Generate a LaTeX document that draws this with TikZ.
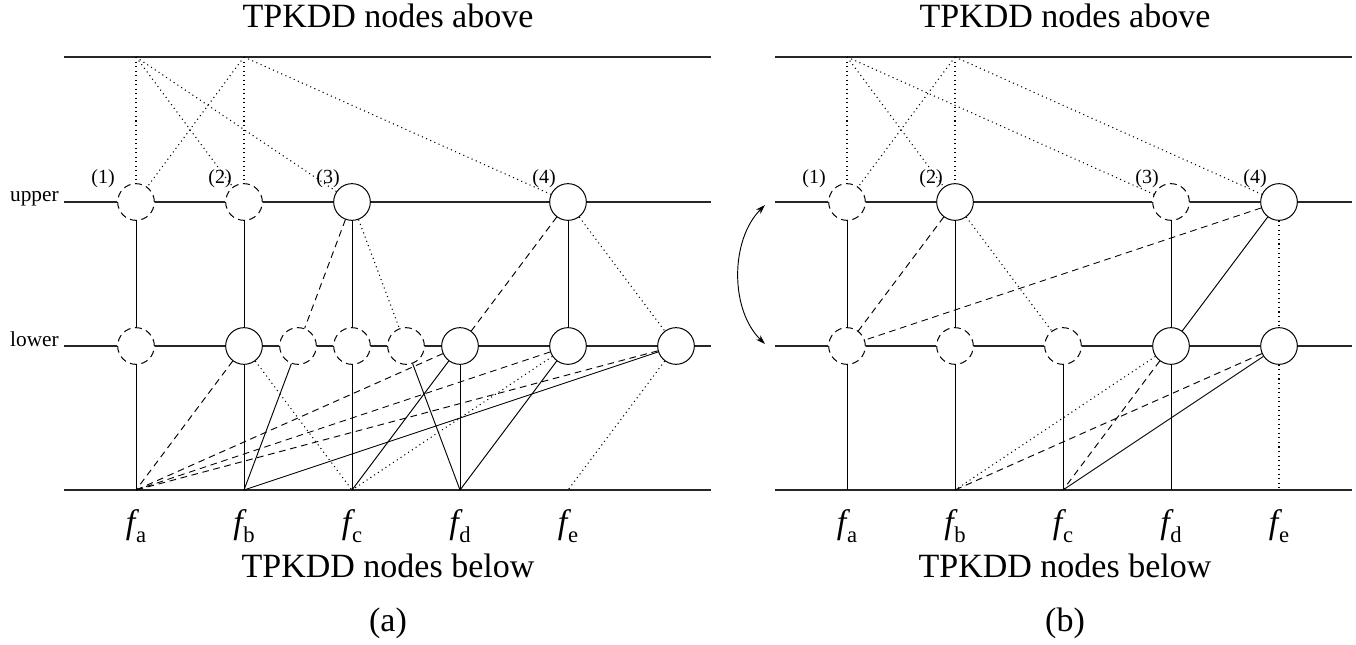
\documentclass[tikz,border=0pt]{standalone}
\usepackage{fontspec}
\setmainfont{Liberation Serif}
\usetikzlibrary{arrows.meta}
\begin{document}
\begin{tikzpicture}[x=0.75pt,y=-0.75pt,
  hl/.style={line width=0.95pt, draw=black!85},
  cn/.style={line width=0.7pt},
  dsh/.style={cn, dash pattern=on 5pt off 3.5pt},
  dot/.style={line width=0.8pt, dash pattern=on 0.8pt off 2.6pt},
  sn/.style={circle, draw, fill=white, minimum size=27.5pt, inner sep=0pt, line width=0.75pt},
  dn/.style={sn, dash pattern=on 5.2pt off 3.4pt},
  nl/.style={font=\fontsize{15}{15}\selectfont, inner sep=0pt},
  side/.style={font=\fontsize{16}{16}\selectfont, inner sep=0pt, anchor=base east},
  big/.style={font=\fontsize{25.5}{30}\selectfont, inner sep=0pt, anchor=base},
  flab/.style={font=\fontsize{25.5}{30}\selectfont, inner sep=0pt, anchor=base}]
\useasboundingbox (0,0) rectangle (1356,645);
\newcommand{\fl}[1]{{\itshape f}\kern0.5pt\raisebox{-0.28em}{\fontsize{17}{17}\selectfont #1}}

% ================= (a) =================
\node[big] (Labove) at (388,28) {TPKDD nodes above};
\node[big] (Lbelow) at (388,577) {TPKDD nodes below};
\node[big] (Lcap) at (388,631) {(a)};
\node[side] (Lupper) at (59,202) {upper};
\node[side] (Llower) at (59,346) {lower};

\coordinate (Ltl) at (64,57);   \coordinate (Ltr) at (711,57);
\coordinate (Lul) at (64,202);  \coordinate (Lur) at (711,202);
\coordinate (Lll) at (64,346);  \coordinate (Llr) at (711,346);
\coordinate (Lbl) at (64,490);  \coordinate (Lbr) at (711,490);
\coordinate (Lta) at (136,57);  \coordinate (Ltb) at (244,57);
\coordinate (Lfa) at (136,490); \coordinate (Lfb) at (244,490);
\coordinate (Lfc) at (352,490); \coordinate (Lfd) at (460,490);
\coordinate (Lfe) at (568,490);

\node[dn] (LU1) at (136,202) {};
\node[dn] (LU2) at (244,202) {};
\node[sn] (LU3) at (352,202) {};
\node[sn] (LU4) at (568,202) {};
\node[dn] (LL1) at (136,346) {};
\node[sn] (LL2) at (244,346) {};
\node[dn] (LL3) at (298,346) {};
\node[dn] (LL4) at (352,346) {};
\node[dn] (LL5) at (406,346) {};
\node[sn] (LL6) at (460,346) {};
\node[sn] (LL7) at (568,346) {};
\node[sn] (LL8) at (676,346) {};

\node[nl] (LU1l) at (103,179) {(1)};
\node[nl] (LU2l) at (220,179) {(2)};
\node[nl] (LU3l) at (328,179) {(3)};
\node[nl] (LU4l) at (544,179) {(4)};

\draw[hl] (Ltl) -- (Ltr);
\draw[hl] (Lul) -- (LU1) -- (LU2) -- (LU3) -- (LU4) -- (Lur);
\draw[hl] (Lll) -- (LL1) -- (LL2) -- (LL3) -- (LL4) -- (LL5) -- (LL6) -- (LL7) -- (LL8) -- (Llr);
\draw[hl] (Lbl) -- (Lbr);

% verticals
\draw[cn] (LU1) -- (LL1);  \draw[cn] (LL1) -- (Lfa);
\draw[cn] (LU2) -- (LL2);  \draw[cn] (LL2) -- (Lfb);
\draw[cn] (LU3) -- (LL4);  \draw[cn] (LL4) -- (Lfc);
\draw[cn] (LL6) -- (Lfd);  \draw[cn] (LU4) -- (LL7);
% top dotted
\draw[dot] (Lta) -- (LU1); \draw[dot] (Lta) -- (LU2); \draw[dot] (Lta) -- (LU3);
\draw[dot] (Ltb) -- (LU1); \draw[dot] (Ltb) -- (LU2); \draw[dot] (Ltb) -- (LU4);
% upper to lower
\draw[dsh] (LU3) -- (LL3); \draw[dot] (LU3) -- (LL5);
\draw[dsh] (LU4) -- (LL6); \draw[dot] (LU4) -- (LL8);
% lower to bottom
\draw[dsh] (LL2) -- (Lfa);
\draw[dsh] (LL6) -- (Lfa);
\draw[dsh] (LL7) -- (Lfa);
\draw[dsh] (LL8) -- (Lfa);
\draw[dot] (LL2) -- (Lfc);
\draw[cn] (LL3) -- (Lfb);
\draw[cn] (LL8) -- (Lfb);
\draw[cn] (LL6) -- (Lfc);
\draw[dot] (LL7) -- (Lfc);
\draw[cn] (LL5) -- (Lfd);
\draw[cn] (LL7) -- (Lfd);
\draw[dot] (LL8) -- (Lfe);

\node[flab] (Lfal) at (136,533) {\fl{a}};
\node[flab] (Lfbl) at (244,533) {\fl{b}};
\node[flab] (Lfcl) at (352,533) {\fl{c}};
\node[flab] (Lfdl) at (460,533) {\fl{d}};
\node[flab] (Lfel) at (568,533) {\fl{e}};

% ================= (b) =================
\node[big] (Rabove) at (1065,28) {TPKDD nodes above};
\node[big] (Rbelow) at (1065,577) {TPKDD nodes below};
\node[big] (Rcap) at (1065,631) {(b)};

\coordinate (Rtl) at (775,57);   \coordinate (Rtr) at (1352,57);
\coordinate (Rul) at (775,202);  \coordinate (Rur) at (1352,202);
\coordinate (Rll) at (775,346);  \coordinate (Rlr) at (1352,346);
\coordinate (Rbl) at (775,490);  \coordinate (Rbr) at (1352,490);
\coordinate (Rta) at (847,57);   \coordinate (Rtb) at (955,57);
\coordinate (Rfa) at (847,490);  \coordinate (Rfb) at (955,490);
\coordinate (Rfc) at (1063,490); \coordinate (Rfd) at (1171,490);
\coordinate (Rfe) at (1279,490);

\node[dn] (RU1) at (847,202) {};
\node[sn] (RU2) at (955,202) {};
\node[dn] (RU3) at (1171,202) {};
\node[sn] (RU4) at (1279,202) {};
\node[dn] (RL1) at (847,346) {};
\node[dn] (RL2) at (955,346) {};
\node[dn] (RL3) at (1063,346) {};
\node[sn] (RL4) at (1171,346) {};
\node[sn] (RL5) at (1279,346) {};

\node[nl] (RU1l) at (814,179) {(1)};
\node[nl] (RU2l) at (931,179) {(2)};
\node[nl] (RU3l) at (1147,179) {(3)};
\node[nl] (RU4l) at (1255,179) {(4)};

\draw[hl] (Rtl) -- (Rtr);
\draw[hl] (Rul) -- (RU1) -- (RU2) -- (RU3) -- (RU4) -- (Rur);
\draw[hl] (Rll) -- (RL1) -- (RL2) -- (RL3) -- (RL4) -- (RL5) -- (Rlr);
\draw[hl] (Rbl) -- (Rbr);

% verticals
\draw[cn] (RU1) -- (RL1);  \draw[cn] (RL1) -- (Rfa);
\draw[cn] (RU2) -- (RL2);  \draw[cn] (RL2) -- (Rfb);
\draw[cn] (RL3) -- (Rfc);
\draw[cn] (RU3) -- (RL4);  \draw[cn] (RL4) -- (Rfd);
\draw[dot] (RU4) -- (RL5); \draw[dot] (RL5) -- (Rfe);
% top dotted
\draw[dot] (Rta) -- (RU1); \draw[dot] (Rta) -- (RU2); \draw[dot] (Rta) -- (RU3);
\draw[dot] (Rtb) -- (RU1); \draw[dot] (Rtb) -- (RU2); \draw[dot] (Rtb) -- (RU4);
% upper to lower
\draw[dsh] (RU2) -- (RL1); \draw[dot] (RU2) -- (RL3);
\draw[dsh] (RU4) -- (RL1); \draw[cn] (RU4) -- (RL4);
% lower to bottom
\draw[dot] (RL4) -- (Rfb);
\draw[dsh] (RL4) -- (Rfc);
\draw[dsh] (RL5) -- (Rfb);
\draw[cn] (RL5) -- (Rfc);

\node[flab] (Rfal) at (847,533) {\fl{a}};
\node[flab] (Rfbl) at (955,533) {\fl{b}};
\node[flab] (Rfcl) at (1063,533) {\fl{c}};
\node[flab] (Rfdl) at (1171,533) {\fl{d}};
\node[flab] (Rfel) at (1279,533) {\fl{e}};

% swap arrow
\coordinate (Sa) at (765,205);
\coordinate (Sb) at (765,344);
\draw[cn, {Stealth[length=7pt,width=4.5pt,inset=2pt]}-{Stealth[length=7pt,width=4.5pt,inset=2pt]}]
  (Sa) .. controls (730,240) and (730,310) .. (Sb);
\end{tikzpicture}
\end{document}
